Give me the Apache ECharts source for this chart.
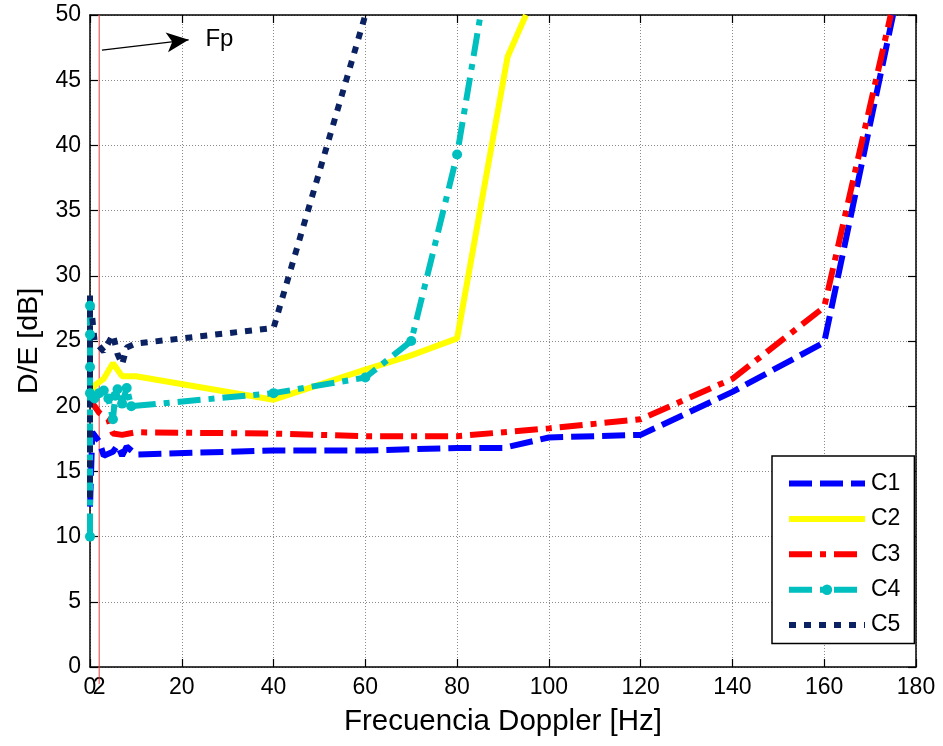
<!DOCTYPE html>
<html>
<head>
<meta charset="utf-8">
<script src="https://cdn.jsdelivr.net/npm/echarts@6/dist/echarts.min.js"></script>
<style>
  html, body { margin: 0; padding: 0; background: #fff; }
  #chart { width: 943px; height: 746px; }
</style>
</head>
<body>
<div id="chart"></div>
<script>
// ---- data (x = Doppler frequency in Hz, y = D/E in dB) ----
const seriesNames = ['C1', 'C2', 'C3', 'C4', 'C5'];
const c1 = [[0,12.3],[0.5,18],[2,17.3],[3,16.2],[5,16.5],[6,17],[7,16.2],[8,16.9],[10,16.3],[40,16.6],[60,16.6],[80,16.8],[90,16.8],[100,17.6],[120,17.8],[140,21.1],[160,24.9],[175,50]];
const c2 = [[0,20.5],[1,21.6],[3,22.1],[5,23.3],[7,22.3],[10,22.3],[40,20.5],[60,22.8],[70,23.9],[80,25.2],[91,46.8],[95,50]];
const c3 = [[0,13.2],[0,20.5],[1,20],[2,19.5],[4,19],[5,17.9],[7,17.8],[10,18],[40,17.9],[60,17.7],[80,17.7],[100,18.3],[120,19],[140,22.1],[160,27.6],[174.5,50]];
const c4 = [[0,10],[0,27.7],[0,25.5],[0,23],[0,21],[1,20.6],[2,21],[3,21.2],[4,20.6],[5,19],[5.5,20.8],[6,21.3],[7,20.2],[8,21.4],[9,20],[40,21],[60,22.2],[70,25],[80,39.3],[86,51.9]];
const c5 = [[0,13],[0,28.5],[1,25],[3,24.2],[5,25.5],[6,24],[7,23.2],[8,24.5],[10,24.8],[40,26],[60,50]];
const fpLine = [[2,-1.3],[2,50]];
const fpArrow = [[2.6,47.3],[21.5,48.1]];
const fpLabel = [[28.2,48.1]];
const xTickExtra = [2];
const xTitle = 'Frecuencia Doppler [Hz]';
const yTitle = 'D/E [dB]';

const FONT = 'Liberation Sans';
const colors = { C1: '#0000ff', C2: '#ffff00', C3: '#ff0000', C4: '#00bfbf', C5: '#0b2262' };
const dashes = { C1: [23, 8], C2: 'solid', C3: [23, 8, 6, 8], C4: [23, 8, 6, 8], C5: [7, 8] };

const chart = echarts.init(document.getElementById('chart'), null, { renderer: 'canvas' });

const gridLine = { show: true, lineStyle: { color: '#8a8a8a', type: [1, 2], width: 1 } };
const axisLine = { show: true, onZero: false, lineStyle: { color: '#000', width: 1.5 } };
const tick = { show: true, inside: true, length: 8, lineStyle: { color: '#000', width: 1.2 } };

function curve(name, data, extra) {
  return Object.assign({
    name: name,
    type: 'line',
    data: data,
    xAxisIndex: 0,
    yAxisIndex: 0,
    symbol: 'none',
    lineStyle: { color: colors[name], width: 6, type: dashes[name], cap: 'butt', join: 'bevel' },
    itemStyle: { color: colors[name] },
    animation: false
  }, extra || {});
}

const legendData = seriesNames.map(function (n) {
  return {
    name: n,
    itemStyle: n === 'C4' ? { color: colors[n], opacity: 1 } : { opacity: 0 },
    lineStyle: { color: colors[n], width: 6, type: dashes[n], cap: 'butt', opacity: 1 }
  };
});

chart.setOption({
  backgroundColor: '#fff',
  animation: false,
  textStyle: { fontFamily: FONT, color: '#000' },
  grid: { left: 90, right: 27, top: 15, bottom: 79, containLabel: false },
  xAxis: [
    {
      type: 'value', min: 0, max: 180, interval: 20, position: 'bottom',
      axisLine: axisLine, axisTick: tick, splitLine: gridLine,
      axisLabel: { color: '#000', fontSize: 23, fontFamily: FONT, margin: 9 },
      name: xTitle, nameLocation: 'middle', nameGap: 40,
      nameTextStyle: { fontSize: 29.5, fontFamily: FONT, color: '#000' }
    },
    {
      type: 'value', min: 0, max: 180, interval: 20, position: 'top',
      axisLine: axisLine, axisTick: tick, splitLine: { show: false },
      axisLabel: { show: false }
    },
    {
      type: 'value', min: 0, max: 180, interval: 2, position: 'bottom',
      axisLine: { show: false }, axisTick: { show: false }, splitLine: { show: false },
      axisLabel: {
        color: '#000', fontSize: 23, fontFamily: FONT, margin: 9,
        formatter: function (v) { return xTickExtra.indexOf(v) >= 0 ? String(v) : ''; }
      }
    }
  ],
  yAxis: [
    {
      type: 'value', min: 0, max: 50, interval: 5, position: 'left',
      axisLine: axisLine, axisTick: tick, splitLine: gridLine,
      axisLabel: { color: '#000', fontSize: 23, fontFamily: FONT, margin: 9 },
      name: yTitle, nameLocation: 'middle', nameGap: 46,
      nameTextStyle: { fontSize: 28.5, fontFamily: FONT, color: '#000' }
    },
    {
      type: 'value', min: 0, max: 50, interval: 5, position: 'right',
      axisLine: axisLine, axisTick: tick, splitLine: { show: false },
      axisLabel: { show: false }
    }
  ],
  legend: {
    orient: 'vertical',
    left: 772, top: 456,
    data: legendData,
    backgroundColor: '#fff',
    borderColor: '#000', borderWidth: 1.5, borderRadius: 0,
    padding: [16, 14, 7, 14],
    itemWidth: 76, itemHeight: 13, itemGap: 12.4,
    lineStyle: { width: 6, cap: 'butt' },
    textStyle: { fontSize: 23, fontFamily: FONT, color: '#000', padding: [0, 0, 0, 1] },
    selectedMode: false
  },
  series: [
    {
      name: 'Fp', type: 'line', data: fpLine, symbol: 'none', clip: false,
      lineStyle: { color: '#e83a3a', width: 1 }, z: 1,
      markLine: {
        silent: true, symbol: ['none', 'arrow'], symbolSize: [15, 22],
        lineStyle: { color: '#000', width: 1.3, type: 'solid' },
        label: { show: false },
        data: [[{ coord: fpArrow[0] }, { coord: fpArrow[1] }]]
      }
    },
    {
      name: 'FpText', type: 'scatter', data: fpLabel, symbolSize: 0,
      itemStyle: { opacity: 1 },
      label: { show: true, position: 'inside', formatter: 'Fp', fontSize: 24, fontFamily: FONT, color: '#000', opacity: 1, textBorderWidth: 0 }
    },
    curve('C1', c1),
    curve('C2', c2),
    curve('C3', c3),
    curve('C4', c4, { symbol: 'circle', symbolSize: 10, showSymbol: true }),
    curve('C5', c5)
  ]
});
</script>
</body>
</html>
